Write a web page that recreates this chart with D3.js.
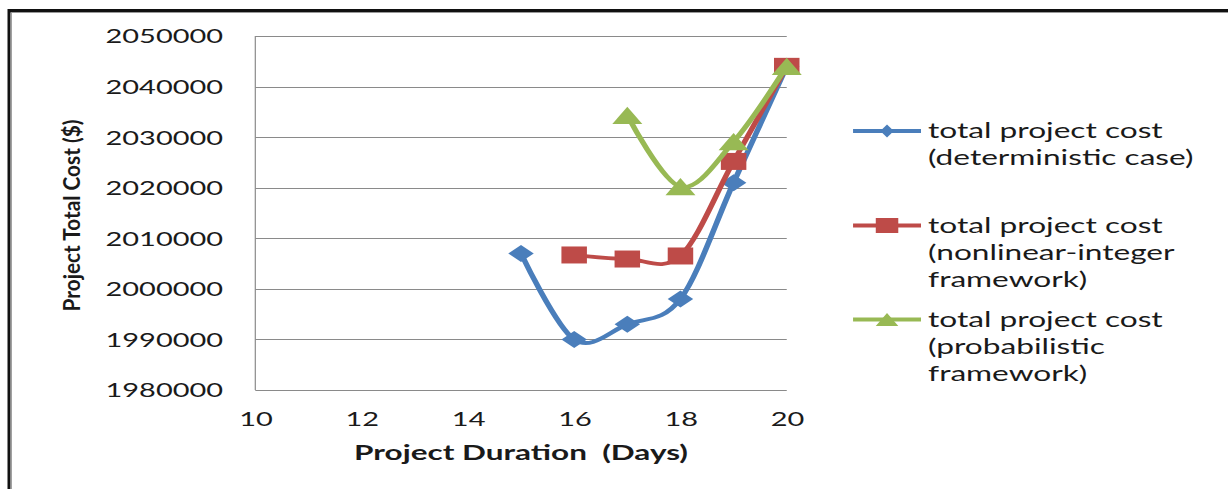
<!DOCTYPE html>
<html>
<head>
<meta charset="utf-8">
<script src="https://cdn.jsdelivr.net/npm/d3@7"></script>
<style>
  html, body { margin: 0; padding: 0; background: #fff; }
  svg { display: block; }
  text { font-family: Lato, "Open Sans", sans-serif; fill: #1a1a1a; }
</style>
</head>
<body>
<script>
// Project duration (days) on the x axis
const xTicks = [10, 12, 14, 16, 18, 20];
const yTicks = [1980000, 1990000, 2000000, 2010000, 2020000, 2030000, 2040000, 2050000];

// total project cost per duration, one array per approach
const deterministicDays = [15, 16, 17, 18, 19, 20];
const deterministicCost = [2007000, 1990000, 1993000, 1998000, 2021000, 2044000];

const nonlinearDays = [16, 17, 18, 19, 20];
const nonlinearCost = [2006700, 2005900, 2006500, 2025200, 2044000];

const probabilisticDays = [17, 18, 19, 20];
const probabilisticCost = [2034300, 2020200, 2029100, 2044000];

const seriesNames = [
  ["total project cost", "(deterministic case)"],
  ["total project cost", "(nonlinear-integer", "framework)"],
  ["total project cost", "(probabilistic", "framework)"]
];
const seriesColors = ["#4A7EBB", "#BE4B48", "#98B954"];
const seriesMarkers = ["diamond", "square", "triangle"];

const W = 1228, H = 489;
const SX = 1.5;                 // horizontal stretch of the whole drawing
const VW = W / SX;              // drawing width before the stretch

const svg = d3.select("body").append("svg").attr("width", W).attr("height", H);
const root = svg.append("g").attr("transform", `scale(${SX},1)`);

// frame along the top and left edges
root.append("line").attr("x1", 6).attr("x2", VW).attr("y1", 10.5).attr("y2", 10.5)
  .attr("stroke", "#111").attr("stroke-width", 3);
root.append("line").attr("x1", 6).attr("x2", VW).attr("y1", 12.5).attr("y2", 12.5)
  .attr("stroke", "#999").attr("stroke-width", 1);
root.append("line").attr("x1", 6).attr("x2", 6).attr("y1", 9).attr("y2", H)
  .attr("stroke", "#111").attr("stroke-width", 2);
root.append("line").attr("x1", 7.6).attr("x2", 7.6).attr("y1", 12).attr("y2", H)
  .attr("stroke", "#999").attr("stroke-width", 0.7);

const plot = { left: 170.2, right: 524.5, top: 36, bottom: 390 };

const x = d3.scaleLinear().domain([10, 20]).range([plot.left, plot.right]);
const y = d3.scaleLinear().domain([1980000, 2050000]).range([plot.bottom, plot.top]);

// horizontal gridlines
root.append("g").selectAll("line").data(yTicks).join("line")
  .attr("x1", plot.left).attr("x2", plot.right)
  .attr("y1", d => Math.round(y(d)) + 0.5).attr("y2", d => Math.round(y(d)) + 0.5)
  .attr("stroke", "#8a8a8a").attr("stroke-width", 1);

// vertical axis line
root.append("line").attr("x1", plot.left).attr("x2", plot.left)
  .attr("y1", plot.top).attr("y2", plot.bottom)
  .attr("stroke", "#8a8a8a").attr("stroke-width", 0.8);

// y tick labels
const yAxis = d3.axisLeft(y).tickValues(yTicks).tickSize(0).tickPadding(21.5)
  .tickFormat(d3.format("d"));
const yg = root.append("g").attr("transform", `translate(${plot.left},0)`).call(yAxis);
yg.select(".domain").remove();
yg.selectAll("text").attr("font-family", "Lato").attr("font-size", 19.3)
  .attr("fill", "#1a1a1a").attr("dy", "0.36em");

// x tick labels
const xAxis = d3.axisBottom(x).tickValues(xTicks).tickSize(0).tickPadding(22)
  .tickFormat(d3.format("d"));
const xg = root.append("g").attr("transform", `translate(0,${plot.bottom})`).call(xAxis);
xg.select(".domain").remove();
xg.selectAll("text").attr("font-family", "Lato").attr("font-size", 19.3)
  .attr("fill", "#1a1a1a").attr("dy", "0.71em");

// axis titles
root.append("text")
  .attr("x", (plot.left + plot.right) / 2).attr("y", 460)
  .attr("text-anchor", "middle").attr("font-weight", "bold").attr("font-size", 21)
  .attr("fill", "#0d0d0d")
  .attr("xml:space", "preserve")
  .text("Project Duration  (Days)");

root.append("text")
  .attr("transform", `translate(53.3,215.5) rotate(-90)`)
  .attr("text-anchor", "middle").attr("font-weight", "bold").attr("font-size", 15.5)
  .attr("textLength", 192).attr("lengthAdjust", "spacingAndGlyphs")
  .attr("fill", "#0d0d0d")
  .text("Project Total Cost ($)");

// marker shapes, centred on their bounding box
function markerPath(kind, w, h) {
  const hw = w / 2, hh = h / 2;
  if (kind === "diamond") return `M0,${-hh}L${hw},0L0,${hh}L${-hw},0Z`;
  if (kind === "square") return `M${-hw},${-hh}H${hw}V${hh}H${-hw}Z`;
  return `M0,${-hh}L${hw},${hh}L${-hw},${hh}Z`;
}

const series = [
  { days: deterministicDays, cost: deterministicCost },
  { days: nonlinearDays, cost: nonlinearCost },
  { days: probabilisticDays, cost: probabilisticCost }
];
const markerSize = [[17, 17], [17, 17], [20, 17.3]];

const line = d3.line().x(d => x(d[0])).y(d => y(d[1])).curve(d3.curveCatmullRom.alpha(0));

series.forEach((s, i) => {
  const pts = s.days.map((d, j) => [d, s.cost[j]]);
  const g = root.append("g");
  g.append("path").datum(pts).attr("d", line)
    .attr("fill", "none").attr("stroke", seriesColors[i]).attr("stroke-width", 3.8)
    .attr("stroke-linejoin", "round").attr("stroke-linecap", "round");
  g.selectAll("path.mk").data(pts).join("path").attr("class", "mk")
    .attr("transform", d => `translate(${x(d[0])},${y(d[1])})`)
    .attr("d", markerPath(seriesMarkers[i], ...markerSize[i]))
    .attr("fill", seriesColors[i]);
});

// legend
const legend = { x0: 568.7, x1: 614, tx: 618.7 };
const legendY = [131, 225.5, 319.5];
const legendMarker = [[9, 13], [15, 15], [15, 13]];
const lineGap = 27;

seriesNames.forEach((lines, i) => {
  const g = root.append("g").attr("transform", `translate(0,${legendY[i]})`);
  g.append("line").attr("x1", legend.x0).attr("x2", legend.x1)
    .attr("stroke", seriesColors[i]).attr("stroke-width", 3.8);
  g.append("path")
    .attr("transform", `translate(${(legend.x0 + legend.x1) / 2},0)`)
    .attr("d", markerPath(seriesMarkers[i], ...legendMarker[i]))
    .attr("fill", seriesColors[i]);
  g.selectAll("text").data(lines).join("text")
    .attr("x", legend.tx).attr("y", (d, k) => k * lineGap)
    .attr("dy", "0.35em").attr("font-size", 21.1).attr("fill", "#1a1a1a")
    .text(d => d);
});
</script>
</body>
</html>
